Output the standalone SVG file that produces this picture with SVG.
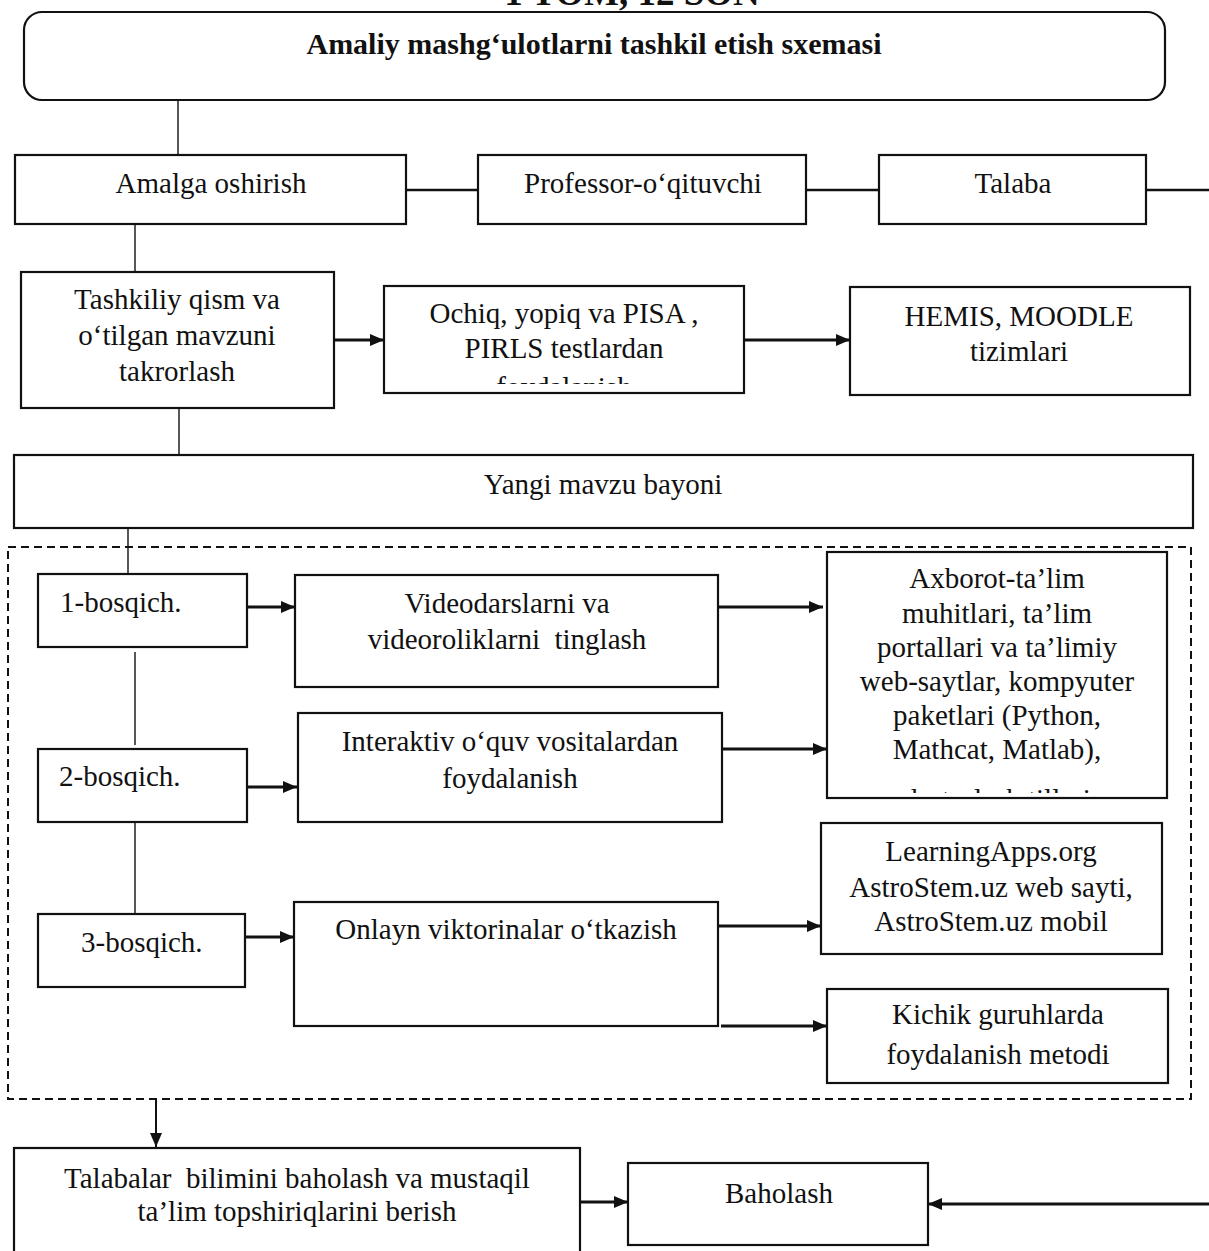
<svg xmlns="http://www.w3.org/2000/svg" width="1209" height="1251" viewBox="0 0 1209 1251">
<defs>
<style>
.box{fill:#fff;stroke:#111;stroke-width:2.2}
.t{font-family:"Liberation Serif","Times New Roman",serif;font-size:29px;fill:#111;text-anchor:middle;white-space:pre}
.tl{font-family:"Liberation Serif","Times New Roman",serif;font-size:29px;fill:#111}
.b{font-weight:bold}
.thin{stroke:#111;stroke-width:1.4;fill:none}
.link{stroke:#111;stroke-width:2.4;fill:none}
.arr{stroke:#111;stroke-width:2.8;fill:none;marker-end:url(#ah)}
.dash{fill:none;stroke:#111;stroke-width:2;stroke-dasharray:8 5}
</style>
<marker id="ah" markerUnits="userSpaceOnUse" markerWidth="16" markerHeight="14" refX="14" refY="6" orient="auto">
<path d="M0,0 L14,6 L0,12 z" fill="#111"/>
</marker>
<clipPath id="c-ochiq"><rect x="385" y="287" width="358" height="97"/></clipPath>
<clipPath id="c-axb"><rect x="828" y="553" width="338" height="240"/></clipPath>
</defs>

<text class="t b" x="632" y="5" style="font-size:37px">1 TOM, 12 SON</text>

<g id="connectors">
<line class="thin" x1="178" y1="100" x2="178" y2="155"/>
<line class="link" x1="406" y1="190" x2="478" y2="190"/>
<line class="link" x1="806" y1="190" x2="879" y2="190"/>
<line class="link" x1="1146" y1="190" x2="1209" y2="190"/>
<line class="thin" x1="135" y1="224" x2="135" y2="272"/>
<line class="arr" x1="334" y1="340" x2="384" y2="340"/>
<line class="arr" x1="744" y1="340" x2="850" y2="340"/>
<line class="thin" x1="179" y1="408" x2="179" y2="455"/>
<line class="thin" x1="128" y1="528" x2="128" y2="574"/>
<line class="arr" x1="247" y1="607" x2="295" y2="607"/>
<line class="arr" x1="718" y1="607" x2="823" y2="607"/>
<line class="thin" x1="135" y1="652" x2="135" y2="745"/>
<line class="arr" x1="246" y1="787" x2="297" y2="787"/>
<line class="arr" x1="722" y1="749" x2="827" y2="749"/>
<line class="thin" x1="135" y1="822" x2="135" y2="914"/>
<line class="arr" x1="243" y1="937" x2="294" y2="937"/>
<line class="arr" x1="716" y1="926" x2="821" y2="926"/>
<line class="arr" x1="721" y1="1026" x2="827" y2="1026"/>
<line class="thin" x1="156" y1="1099" x2="156" y2="1147" style="stroke-width:2;marker-end:url(#ah)"/>
<line class="arr" x1="580" y1="1202" x2="628" y2="1202"/>
<line class="arr" x1="1209" y1="1204" x2="928" y2="1204"/>
</g>

<rect id="stages-frame" class="dash" x="8" y="547" width="1183" height="552"/>

<g id="title">
<rect class="box" x="24" y="12" width="1141" height="88" rx="18"/>
<text class="t b" x="594" y="54" style="font-size:30px">Amaliy mashg‘ulotlarni tashkil etish sxemasi</text>
</g>

<g id="amalga">
<rect class="box" x="15" y="155" width="391" height="69"/>
<text class="t" x="211" y="193">Amalga oshirish</text>
</g>
<g id="professor">
<rect class="box" x="478" y="155" width="328" height="69"/>
<text class="t" x="643" y="193">Professor-o‘qituvchi</text>
</g>
<g id="talaba">
<rect class="box" x="879" y="155" width="267" height="69"/>
<text class="t" x="1013" y="193">Talaba</text>
</g>

<g id="tashkiliy">
<rect class="box" x="21" y="272" width="313" height="136"/>
<text class="t" x="177" y="309">Tashkiliy qism va</text>
<text class="t" x="177" y="345">o‘tilgan mavzuni</text>
<text class="t" x="177" y="381">takrorlash</text>
</g>
<g id="ochiq">
<rect class="box" x="384" y="286" width="360" height="107"/>
<g clip-path="url(#c-ochiq)">
<text class="t" x="564" y="323">Ochiq, yopiq va PISA ,</text>
<text class="t" x="564" y="358">PIRLS testlardan</text>
<text class="t" x="564" y="397">foydalanish</text>
</g>
</g>
<g id="hemis">
<rect class="box" x="850" y="287" width="340" height="108"/>
<text class="t" x="1019" y="326">HEMIS, MOODLE</text>
<text class="t" x="1019" y="361">tizimlari</text>
</g>

<g id="yangi">
<rect class="box" x="14" y="455" width="1179" height="73"/>
<text class="t" x="603" y="494">Yangi mavzu bayoni</text>
</g>

<g id="bosqich1">
<rect class="box" x="38" y="574" width="209" height="73"/>
<text class="tl" x="60" y="612">1-bosqich.</text>
</g>
<g id="bosqich2">
<rect class="box" x="38" y="749" width="209" height="73"/>
<text class="tl" x="59" y="786">2-bosqich.</text>
</g>
<g id="bosqich3">
<rect class="box" x="38" y="914" width="207" height="73"/>
<text class="tl" x="81" y="952">3-bosqich.</text>
</g>

<g id="video">
<rect class="box" x="295" y="575" width="423" height="112"/>
<text class="t" x="507" y="613">Videodarslarni va</text>
<text class="t" x="507" y="649" xml:space="preserve">videoroliklarni  tinglash</text>
</g>
<g id="interaktiv">
<rect class="box" x="298" y="713" width="424" height="109"/>
<text class="t" x="510" y="751">Interaktiv o‘quv vositalardan</text>
<text class="t" x="510" y="788">foydalanish</text>
</g>
<g id="onlayn">
<rect class="box" x="294" y="902" width="424" height="124"/>
<text class="t" x="506" y="939">Onlayn viktorinalar o‘tkazish</text>
</g>

<g id="axborot">
<rect class="box" x="827" y="552" width="340" height="246"/>
<g clip-path="url(#c-axb)">
<text class="t" x="997" y="588">Axborot-ta’lim</text>
<text class="t" x="997" y="623">muhitlari, ta’lim</text>
<text class="t" x="997" y="657">portallari va ta’limiy</text>
<text class="t" x="997" y="691">web-saytlar, kompyuter</text>
<text class="t" x="997" y="725">paketlari (Python,</text>
<text class="t" x="997" y="759">Mathcat, Matlab),</text>
<text class="t" x="997" y="809">dasturlash tillari</text>
</g>
</g>
<g id="learningapps">
<rect class="box" x="821" y="823" width="341" height="131"/>
<text class="t" x="991" y="861">LearningApps.org</text>
<text class="t" x="991" y="897">AstroStem.uz web sayti,</text>
<text class="t" x="991" y="931">AstroStem.uz mobil</text>
</g>
<g id="kichik">
<rect class="box" x="827" y="989" width="341" height="94"/>
<text class="t" x="998" y="1024">Kichik guruhlarda</text>
<text class="t" x="998" y="1064">foydalanish metodi</text>
</g>

<g id="talabalar">
<rect class="box" x="14" y="1148" width="566" height="120"/>
<text class="t" x="297" y="1188" xml:space="preserve">Talabalar  bilimini baholash va mustaqil</text>
<text class="t" x="297" y="1221">ta’lim topshiriqlarini berish</text>
</g>
<g id="baholash">
<rect class="box" x="628" y="1163" width="300" height="82"/>
<text class="t" x="779" y="1203">Baholash</text>
</g>
</svg>
